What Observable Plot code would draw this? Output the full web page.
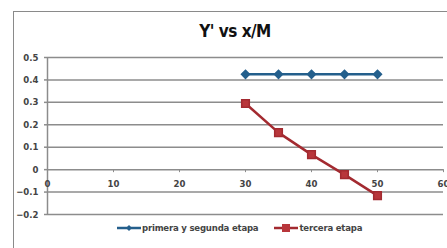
<!DOCTYPE html>
<html>
<head>
<meta charset="utf-8">
<script src="https://cdn.jsdelivr.net/npm/d3@7"></script>
<script src="https://cdn.jsdelivr.net/npm/@observablehq/plot@0.6"></script>
<style>
  html, body { margin: 0; padding: 0; background: #fff; }
  body { width: 447px; height: 248px; overflow: hidden; position: relative;
         font-family: "Liberation Sans Narrow", "DejaVu Sans Condensed", sans-serif; }
  #frame { position: absolute; left: 13px; top: 11px; width: 600px; height: 400px;
           border-left: 1.5px solid #8a8a8a; border-top: 1.5px solid #8a8a8a; pointer-events: none; }
  #title { position: absolute; left: 0; width: 470px; top: 21px; text-align: center;
           font-size: 17px; font-weight: bold; color: #111; letter-spacing: -0.5px; }
  #legend { position: absolute; top: 222px; left: 117px; font-size: 9.5px; font-weight: bold;
            color: #444; display: flex; align-items: center; white-space: nowrap; letter-spacing: -0.2px; }
  #legend .item { display: flex; align-items: center; margin-right: 16px; }
  #legend svg { margin-right: 1px; }
  #chart { position: absolute; left: 0; top: 0; }
</style>
</head>
<body>
<div id="chart"></div>
<div id="frame"></div>
<div id="title">Y' vs x/M</div>
<div id="legend"></div>
<script>
const xValues = [30, 35, 40, 45, 50];
const seriesNames = ["primera y segunda etapa", "tercera etapa"];
const primeraValues = [0.425, 0.425, 0.425, 0.425, 0.425];
const terceraValues = [0.295, 0.165, 0.067, -0.022, -0.116];
const xTicks = [0, 10, 20, 30, 40, 50, 60];
const yTicks = [-0.2, -0.1, 0, 0.1, 0.2, 0.3, 0.4, 0.5];
const colors = ["#245f8c", "#a32a30"];
const markerColors = ["#245f8c", "#b8363b"];

const data = [];
xValues.forEach((x, i) => {
  data.push({series: seriesNames[0], x, y: primeraValues[i]});
  data.push({series: seriesNames[1], x, y: terceraValues[i]});
});
const s0 = data.filter(d => d.series === seriesNames[0]);
const s1 = data.filter(d => d.series === seriesNames[1]);

const fmtY = d => d === 0 ? "0" : d3.format(".1f")(d);
const grid = "#8c8c8c";

const plot = Plot.plot({
  width: 447,
  height: 248,
  marginLeft: 47,
  marginRight: 4,
  marginTop: 57,
  marginBottom: 34,
  style: {background: "transparent", fontFamily: "'Liberation Sans Narrow', 'DejaVu Sans Condensed', sans-serif"},
  x: {domain: [0, 60], axis: null},
  y: {domain: [-0.2, 0.5]},
  marks: [
    Plot.gridY(yTicks, {stroke: grid, strokeOpacity: 1, strokeWidth: 1.5}),
    Plot.axisY(yTicks, {tickSize: 3, tickPadding: 6, stroke: grid, strokeWidth: 1.5, label: null,
      tickFormat: fmtY, fontSize: 9.5, fontWeight: "bold", fill: "#444"}),
    Plot.ruleX([0], {y1: -0.2, y2: 0.5, stroke: grid, strokeWidth: 1.5}),
    Plot.ruleX(xTicks.filter(d => d > 0), {x: d => d, y1: 0, y2: 0, insetBottom: -3, stroke: grid, strokeWidth: 1}),
    Plot.text(xTicks, {x: d => d, y: 0, dy: 14, text: d => String(d), fontSize: 9.5, fontWeight: "bold", fill: "#444"}),
    Plot.line(s0, {x: "x", y: "y", stroke: colors[0], strokeWidth: 2.5}),
    Plot.dot(s0, {x: "x", y: "y", symbol: "diamond2", r: 3.6, fill: markerColors[0], stroke: colors[0]}),
    Plot.line(s1, {x: "x", y: "y", stroke: colors[1], strokeWidth: 2.5}),
    Plot.dot(s1, {x: "x", y: "y", symbol: "square", r: 4.3, fill: markerColors[1], stroke: colors[1]})
  ]
});
document.getElementById("chart").appendChild(plot);

const legend = document.getElementById("legend");
seriesNames.forEach((name, i) => {
  const item = document.createElement("div");
  item.className = "item";
  const marker = i === 0
    ? `<polygon points="12,1 15,4 12,7 9,4" fill="${markerColors[0]}"/>`
    : `<rect x="8" y="0" width="8" height="8" fill="${markerColors[1]}"/>`;
  item.innerHTML = `<svg width="24" height="8"><line x1="0" x2="24" y1="4" y2="4" stroke="${colors[i]}" stroke-width="2.5"/>${marker}</svg><span>${name}</span>`;
  legend.appendChild(item);
});
</script>
</body>
</html>
